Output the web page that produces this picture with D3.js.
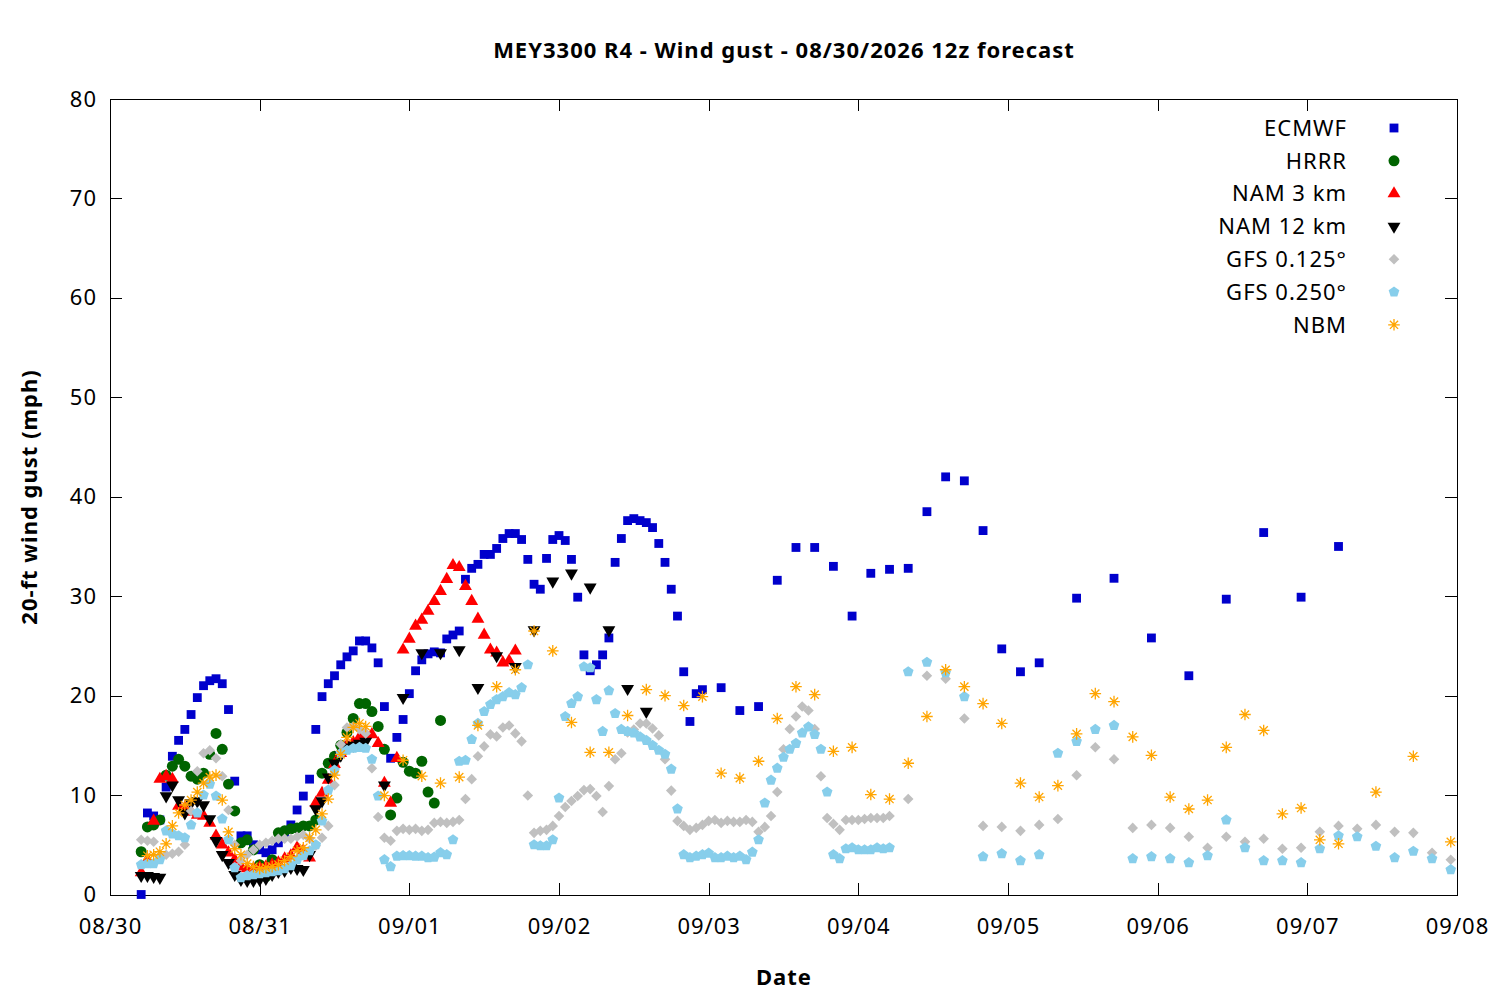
<!DOCTYPE html>
<meta charset="utf-8">
<style>
body{margin:0;background:#fff;}
svg text{font-family:"Noto Sans","Open Sans",sans-serif;fill:#000;letter-spacing:1px;}
.tick text{font-size:22px;}
.title,.axis-label{font-weight:bold;font-size:22px;}
.legend text{font-size:22px;}
.axis path,.axis line{stroke:#000;stroke-width:1px;shape-rendering:crispEdges;}
</style>
<svg id="chart" width="1500" height="1000"></svg>
<script src="https://d3js.org/d3.v7.min.js"></script>
<script>
// forecast hours counted from the 08/30 12z run, shown in local time (UTC-7)

// ECMWF: hourly 0-90, 3-hourly 93-144, 6-hourly 150-192
const ecmwfHourly = [0,8.2,7.9,7.5,10.8,13.9,15.5,16.6,18.1,19.8,
  21.0,21.5,21.7,21.2,18.6,11.4,5.9,5.9,5.0,4.5,
  4.2,4.5,5.2,6.0,7.0,8.5,9.9,11.6,16.6,19.9,
  21.2,22.0,23.1,23.9,24.5,25.5,25.5,24.8,23.3,18.9,
  13.7,15.8,17.6,20.2,22.5,23.6,24.2,24.4,24.3,25.7,
  26.1,26.5,31.7,32.8,33.2,34.2,34.2,34.8,35.8,36.3,
  36.3,35.7,33.7,31.2,30.7,33.8,35.7,36.1,35.6,33.7,
  29.9,24.1,22.5,23.1,24.1,25.8,33.4,35.8,37.6,37.8,
  37.6,37.4,36.9,35.3,33.4,30.7,28.0,22.4,17.4,20.2,20.6]
const ecmwf3h = [20.8,18.5,18.9,31.6,34.9,34.9,33.0,28.0,32.3,32.7,32.8,38.5,42.0,41.6,36.6,24.7,22.4,23.3]
const ecmwf6h = [29.8,31.8,25.8,22.0,29.7,36.4,29.9,35.0]

// HRRR: hourly 0-48
const hrrrHourly = [4.3,6.8,7.0,7.5,12.0,12.9,13.6,12.9,11.9,11.6,
  12.2,14.1,16.2,14.6,11.1,8.4,5.2,5.5,4.5,3.0,
  1.8,3.5,6.2,6.4,6.6,6.7,6.9,6.9,7.5,12.2,
  13.2,13.9,15.0,16.3,17.7,19.2,19.2,18.4,16.9,14.6,
  8.0,9.7,13.3,12.4,12.2,13.4,10.3,9.2,17.5]

// NAM 3 km: hourly 0-60
const nam3Hourly = [2.2,3.5,7.4,11.6,11.9,11.6,8.9,8.7,8.3,8.0,
  7.9,7.2,5.9,5.0,4.2,3.5,2.8,2.6,2.6,2.7,
  2.8,3.0,3.2,3.6,3.9,4.7,4.4,3.7,9.2,10.2,
  11.5,13.1,14.2,15.0,15.3,15.8,16.1,16.1,15.2,11.2,
  9.2,13.7,24.6,25.7,27.0,27.6,28.5,29.5,30.5,31.7,
  33.1,32.9,31.0,29.5,27.7,26.1,24.6,24.3,23.3,23.5,24.5]

// NAM 12 km: hourly 0-36, 3-hourly 39-81
const nam12Hourly = [1.9,1.9,1.8,1.7,9.9,11.0,9.5,8.2,9.2,9.4,
  9.0,7.6,5.4,4.0,3.2,2.0,1.5,1.4,1.4,1.5,
  1.6,2.0,2.3,2.4,2.7,2.6,2.5,4.0,8.6,9.4,
  11.8,13.2,14.0,14.8,15.0,15.2,15.4]
const nam123h = [11.0,19.8,24.3,24.3,24.6,20.8,24.0,22.9,26.6,31.5,32.3,30.9,26.6,20.7,18.4]

// GFS 0.125: hourly 0-120, 3-hourly 123-210
const gfs125Hourly = [5.5,5.4,5.3,3.9,4.0,4.1,4.3,5.0,8.4,12.4,
  14.2,14.5,13.7,11.9,8.5,5.0,3.4,4.0,4.5,5.0,
  5.2,5.4,5.6,5.6,5.6,5.8,6.0,5.6,4.9,5.7,
  6.9,11.0,15.1,16.8,16.9,16.6,16.2,12.7,7.8,5.7,
  5.4,6.4,6.6,6.5,6.6,6.4,6.5,7.2,7.3,7.2,
  7.3,7.5,9.6,11.6,13.9,14.9,16.1,15.9,16.8,17.0,
  16.2,15.4,9.95,6.2,6.4,6.5,6.9,7.9,8.8,9.4,
  9.9,10.5,10.6,9.9,8.3,10.9,13.6,14.2,16.3,16.6,
  17.2,17.2,16.7,16.0,13.6,10.45,7.4,6.9,6.5,6.7,
  7.0,7.4,7.5,7.2,7.4,7.3,7.3,7.5,7.3,6.3,
  6.8,7.9,10.3,14.6,16.65,17.9,18.9,18.5,16.65,11.9,
  7.7,7.1,6.5,7.5,7.5,7.5,7.6,7.7,7.7,7.7,7.9]
const gfs1253h = [9.6,22.0,21.7,17.7,6.9,6.8,6.4,7.0,7.6,12.0,
  14.8,13.6,6.7,7.0,6.7,5.8,4.7,5.8,5.3,5.6,
  4.6,4.7,6.3,6.9,6.6,7.0,6.3,6.2,4.2,3.5]

// GFS 0.250: hourly 0-120, 3-hourly 123-210
const gfs250Hourly = [3.0,3.1,3.1,3.5,6.4,6.1,5.9,5.7,7.0,8.2,
  10.0,11.1,9.9,7.6,5.5,2.7,1.7,1.9,2.0,2.1,
  2.2,2.3,2.4,2.6,2.9,3.5,3.9,4.4,5.0,7.4,
  10.5,12.5,14.2,14.5,14.7,14.8,14.7,13.6,9.9,3.5,
  2.8,3.85,3.9,3.9,3.85,3.85,3.7,3.75,4.2,4.0,
  5.5,13.4,13.5,15.6,17.2,18.4,19.1,19.6,19.9,20.3,
  20.1,20.8,23.1,5.0,4.9,4.9,5.5,9.7,17.9,19.2,
  19.9,22.9,22.8,19.6,16.4,20.5,18.2,16.6,16.4,16.25,
  15.85,15.5,15.0,14.5,14.1,12.6,8.6,4.0,3.7,3.85,
  4.0,4.15,3.7,3.7,3.85,3.7,3.85,3.5,4.25,5.5,
  9.2,11.5,12.7,13.8,14.6,15.2,16.25,16.85,16.1,14.6,
  10.3,4.0,3.6,4.6,4.7,4.5,4.5,4.5,4.7,4.6,4.7]
const gfs2503h = [22.4,23.35,22.3,19.9,3.8,4.1,3.4,4.0,14.2,15.4,
  16.6,17.0,3.6,3.8,3.6,3.2,3.9,7.5,4.7,3.4,
  3.4,3.2,4.6,5.9,5.8,4.85,3.7,4.35,3.6,2.5]

// NBM: hourly 1-36, 3-hourly 39-192, 6-hourly 198-210
const nbmHourly = [3.9,4.0,4.3,5.1,6.9,8.2,9.0,9.5,10.3,11.2,
  11.8,12.0,9.5,6.3,4.6,4.0,3.1,2.8,2.6,2.7,
  2.8,3.0,3.4,3.8,4.4,4.7,5.7,6.5,8.1,9.6,
  12.0,14.1,15.8,16.8,17.2,16.9]
const nbm3h = [9.95,13.5,11.9,11.2,11.8,17.0,20.9,22.6,26.5,24.5,
  17.3,14.3,14.3,18.0,20.6,20.0,19.0,19.9,12.2,11.7,
  13.4,17.7,20.9,20.1,14.4,14.8,10.05,9.6,13.2,17.9,
  22.6,20.9,19.2,17.2,11.2,9.8,10.95,16.15,20.2,19.4,
  15.85,14.0,9.8,8.6,9.5,14.8,18.1,16.5,8.1,8.7,5.5,5.1]
const nbm6h = [10.3,13.9,5.3]

const dayTicks = ["08/30","08/31","09/01","09/02","09/03","09/04","09/05","09/06","09/07","09/08"]
const yTicks = [0,10,20,30,40,50,60,70,80]

// ---- helpers ----
const runStart = Date.UTC(2026, 7, 30, 5)
const seq = (h0, step, vals) => vals.map((v, i) => ({t: new Date(runStart + (h0 + i * step) * 36e5), v}))

const pentagon = {
  draw(ctx, size) {
    const r = Math.sqrt(size / 2.378)
    for (let k = 0; k < 5; k++) {
      const a = -Math.PI / 2 + k * 2 * Math.PI / 5
      k ? ctx.lineTo(r * Math.cos(a), r * Math.sin(a)) : ctx.moveTo(r * Math.cos(a), r * Math.sin(a))
    }
    ctx.closePath()
  }
}
const asterisk = "M-5.8,0H5.8M0,-5.8V5.8M-4.1,-4.1L4.1,4.1M-4.1,4.1L4.1,-4.1"

const series = [
  {name: "ECMWF", color: "#0000cc", pts: [...seq(0,1,ecmwfHourly), ...seq(93,3,ecmwf3h), ...seq(150,6,ecmwf6h)],
    path: d3.symbol(d3.symbolSquare, 78)(), rot: 0},
  {name: "HRRR", color: "#006400", pts: seq(0,1,hrrrHourly), path: d3.symbol(d3.symbolCircle, 95)(), rot: 0},
  {name: "NAM 3 km", color: "#ff0000", pts: seq(0,1,nam3Hourly), path: d3.symbol(d3.symbolTriangle, 72)(), rot: 0},
  {name: "NAM 12 km", color: "#000000", pts: [...seq(0,1,nam12Hourly), ...seq(39,3,nam123h)],
    path: d3.symbol(d3.symbolTriangle, 72)(), rot: 180},
  {name: "GFS 0.125°", color: "#c0c0c0", pts: [...seq(0,1,gfs125Hourly), ...seq(123,3,gfs1253h)],
    path: d3.symbol(d3.symbolSquare, 56)(), rot: 45},
  {name: "GFS 0.250°", color: "#87ceeb", pts: [...seq(0,1,gfs250Hourly), ...seq(123,3,gfs2503h)],
    path: d3.symbol(pentagon, 75)(), rot: 0},
  {name: "NBM", color: "#ffa500", pts: [...seq(1,1,nbmHourly), ...seq(39,3,nbm3h), ...seq(198,6,nbm6h)],
    path: asterisk, rot: 0, stroke: true}
]

// ---- layout ----
const svg = d3.select('#chart')
const L = 110, R = 1457, T = 99, B = 894.5

const x = d3.scaleUtc()
  .domain([Date.UTC(2026,7,30), Date.UTC(2026,8,8)])
  .range([L, R])
const y = d3.scaleLinear().domain([0, 80]).range([B, T])

const dayDates = dayTicks.map((_, i) => new Date(Date.UTC(2026,7,30) + i * 864e5))

svg.append('g').attr('class','axis').attr('transform',`translate(0,${B})`)
  .call(d3.axisBottom(x).tickValues(dayDates).tickFormat((d,i) => dayTicks[i])
    .tickSizeInner(-12).tickSizeOuter(0).tickPadding(24))
svg.append('g').attr('class','axis').attr('transform',`translate(0,${T})`)
  .call(d3.axisTop(x).tickValues(dayDates).tickFormat('').tickSizeInner(-12).tickSizeOuter(0))
svg.append('g').attr('class','axis').attr('transform',`translate(${L},0)`)
  .call(d3.axisLeft(y).tickValues(yTicks).tickSizeInner(-12).tickSizeOuter(0).tickPadding(13))
svg.append('g').attr('class','axis').attr('transform',`translate(${R},0)`)
  .call(d3.axisRight(y).tickValues(yTicks).tickFormat('').tickSizeInner(-12).tickSizeOuter(0))
svg.selectAll('.tick text').attr('fill','#000')

// ---- points ----
series.forEach(s => {
  svg.append('g').selectAll('path').data(s.pts).enter().append('path')
    .attr('d', s.path)
    .attr('transform', d => `translate(${x(d.t)},${y(d.v)}) rotate(${s.rot})`)
    .attr('fill', s.stroke ? 'none' : s.color)
    .attr('stroke', s.stroke ? s.color : 'none')
    .attr('stroke-width', 1.3)
})

// ---- legend ----
const legend = svg.append('g').attr('class','legend')
series.forEach((s, i) => {
  const ly = 128 + i * 32.8
  legend.append('text').attr('x', 1347).attr('y', ly).attr('dy','0.35em')
    .attr('text-anchor','end').text(s.name)
  legend.append('path').attr('d', s.path)
    .attr('transform', `translate(1394,${ly}) rotate(${s.rot})`)
    .attr('fill', s.stroke ? 'none' : s.color)
    .attr('stroke', s.stroke ? s.color : 'none')
    .attr('stroke-width', 1.3)
})

// ---- titles ----
svg.append('text').attr('class','title').attr('x', 784).attr('y', 58)
  .attr('text-anchor','middle').text('MEY3300 R4 - Wind gust - 08/30/2026 12z forecast')
svg.append('text').attr('class','axis-label').attr('x', 784).attr('y', 985)
  .attr('text-anchor','middle').text('Date')
svg.append('text').attr('class','axis-label')
  .attr('transform','translate(37,497) rotate(-90)')
  .attr('text-anchor','middle').text('20-ft wind gust (mph)')
</script>
